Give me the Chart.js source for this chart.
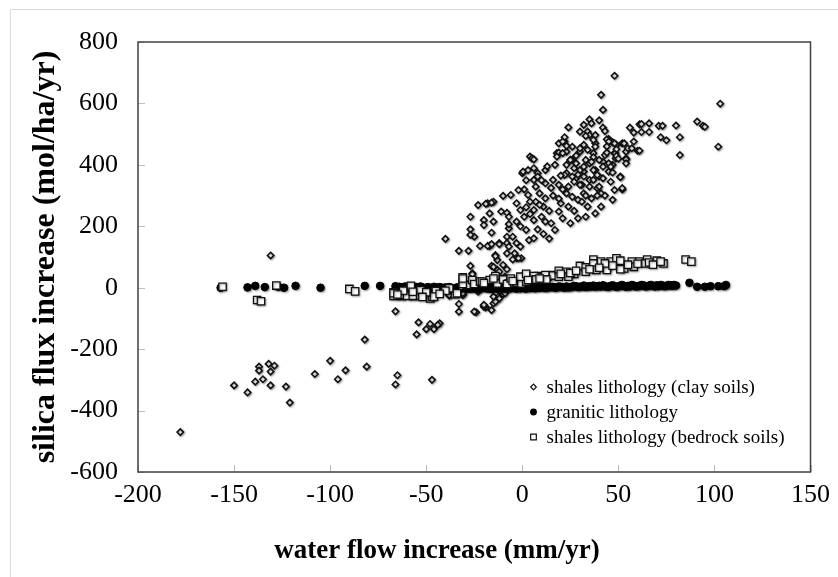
<!DOCTYPE html>
<html><head><meta charset="utf-8">
<script src="https://cdn.jsdelivr.net/npm/chart.js@4/dist/chart.umd.min.js"></script>
<style>html,body{margin:0;padding:0;background:#fff}#wrap{position:relative;width:838px;height:577px}</style>
</head><body><div id="wrap"><canvas id="c" width="838" height="577"></canvas></div>
<script>
const seriesLabels = ['shales lithology (clay soils)', 'granitic lithology', 'shales lithology (bedrock soils)'];
const xTitle = 'water flow increase (mm/yr)';
const yTitle = 'silica flux increase (mol/ha/yr)';
const xRange = [-200, 150, 50];
const yRange = [-600, 800, 200];

const clayData = [
[-178,-470],[-131,105],[-150,-318],[-143,-341],[-139,-306],[-137,-257],[-137,-270],[-135,-298],[-132,-248],[-129,-254],[-131,-273],[-131,-318],[-123,-322],[-121,-374],[-108,-281],[-100,-238],[-96,-298],[-92,-269],[-82,-169],[-81,-257],[-66,-315],[-65,-285],[-66,-77],[-54,-113],[-55,-152],[-50,-135],[-48,-118],[-46,-135],[-43,-116],[-44,-121],[-47,-300],[-33,-53],[-33,-78],[-38,-26],[-31,-21],[-24,-80],[-20,-59],[-19,-64],[-16,-73],[-15,-51],[-13,-38],[-12,-27],[-10,-21],[-9,-10],[-23,-13],[-38,-24],[-31,-24],[-20,-62],[-25,-78],[-12,-35],[-14,-45],[-9,-18],[-8,9],[-20,-56],[-15,-29],[-31,-18],
[-40,159],[-33,120],[-28,120],[-27,231],[-27,190],[-25,166],[-23,269],[-22,136],[-20,220],[-20,204],[-18,275],[-17,136],[-17,242],[-16,179],[-15,215],[-15,280],[-14,106],[-13,90],[-12,145],[-11,248],[-10,74],[-8,244],[-7,231],[-7,193],[-7,207],[-8,166],[-8,145],[-7,134],[-8,112],[-6,302],[-5,166],[-3,275],[-3,215],[-3,145],[-4,112],[-3,96],[-1,253],[-0.5,96],[-10,299],[-19,273],[-16,277],[-27,71],[-26,47],[-13,58],[-8,60],[-12,36],[-9,36],[-5,92],[-2,96],[-1,134],[-27,172],[-18,136],[-16,142],[-12,142],[-14,103],[-16,71],[-26,44],[-15,68],[-12,52],
[0,373],[1,320],[1,231],[2,188],[3,302],[3.5,155],[4,427],[5,421],[6,351],[6,389],[7,329],[7,280],[6,253],[6,220],[6,161],[8,373],[9,307],[10,231],[11,264],[12,383],[12,340],[12,291],[12,215],[15,210],[16,351],[17,400],[18,438],[19,470],[19,248],[19,335],[20,275],[21,226],[22,476],[23,307],[23,373],[24,264],[24,329],[25,416],[26,296],[27,389],[28,356],[29,286],[30,443],[31,335],[32,378],[32,465],[32,307],[33,416],[34,264],[35,351],[36,291],[37,438],[38,470],[38,383],[39,324],[40,362],[41,307],[42,410],[43,432],[45,378],[47,400],[48,438],[49,465],[51,362],[52,320],[52,470],[54,443],
[48,690],[41,628],[42,579],[24,522],[32,530],[35,548],[36,535],[40,545],[30,508],[34,508],[35,497],[38,497],[42,521],[43,510],[22,490],[21,476],[23,443],[19,440],[18,427],[6,418],[0.4,378],[3,383],[8,362],[-2,318],
[56,521],[58,505],[61,532],[62,533],[66,535],[62,507],[66,507],[71,527],[73,527],[80,528],[72,490],[75,480],[82,490],[82,432],[91,541],[94,527],[95,524],[102,459],[103,599],
[51,360],[54,421],[60,446],[58,476],[53,470],[55,454],[48.6,421],[48.4,438],[45,484],[47,473],[26,416],[33,494],[37,481],[38,459],[44,483],[45,476],[48,470],[49,451],[49,429],[54,418],[54,405],[57,454],[61,446],[44,440],[45,405],[46,394],[47,375],[52,324],[42,394],[40,416],[37,425],[34,449],[30,454],[26,459],[23,462],[21,438],[25,416],[28,405],[30,383],[32,394],[35,405],[37,383],[39,367],[42,356],[23,400],[22,367],[26,362],[32,362],[37,351],[30,335],[35,329],[40,329],[25,210],[29,226],[33,231],[38,242],[41,264],[47,286],[48,318],
[14,250],[9,270],[4,240],[16,300],[21,320],[27,345],[13,395],[10,350],[2,350],[14,160],[8,190],[17,188],[27,250],[31,280],[20,365],[28,430],[36,410],[44,460],[50,420],[46,345],[33,300],[-1,200],[4,280],[15,325],[11,175],[2,262],[29,368],[39,300],[43,300],[19,290]
];

const graniteData = [
[-157,0],[-143,1],[-139,6],[-134,2],[-127,3],[-124,0],[-118,6],[-105,0],[-82,6],[-74,6],[-66,5],[-65,1],[-64,3],[-63,-1],[-62,2],[-61,4],[-60,1],[-59,4],[-58,-2],[-57,0],[-56,3],[-55,2],[-54,-1],[-53,4],[-52,1],[-51,-3],[-50,0],[-49,2],[-48,-3],[-47,-1],[-46,3],[-45,1],[-44,-2],[-43,2],[-42,0],[-41,-3],[-40,1],[-39,-1],[-38,2],[-37,0],[-36,-3],[-35,-2],[-34,1],[-33,-4],[-32,-1],[-31,2],[-30,0],[-29,-2],[-28,-4],[-27,1],[-26,-3],[-25,-1],[-24,0],[-23,-4],[-22,-2],[-21,1],[-20,0],[-19,1],[-18,-3],[-17,-1],[-16,-4],[-15,0],[-14,-2],[-13,-4],[-12,1],[-11,-3],[-10,0],[-9,-1],[-8,-4],[-7,1],[-6,-2],[-5,0],[-4,2],[-3,-3],[-2,0],[-1,-2],[0,1],[1,-1],[2,-3],[3,2],[4,-1],[5,0],[6,1],[7,-2],[8,3],[9,0],[10,1],[11,2],[12,-1],[13,0],[14,3],[15,2],[16,3],[17,0],[18,1],[19,4],[20,3],[21,2],[22,0],[23,4],[24,1],[25,2],[26,3],[27,6],[28,5],[29,2],[30,3],[31,4],[32,7],[33,2],[34,4],[35,5],[36,4],[37,7],[38,3],[39,5],[40,6],[41,4],[42,8],[43,5],[44,3],[45,3],[46,6],[47,8],[48,5],[49,3],[50,4],[51,7],[52,9],[53,5],[54,3],[55,6],[56,4],[57,9],[58,7],[59,4],[60,5],[61,6],[62,9],[63,8],[64,4],[65,5],[66,7],[67,9],[68,6],[69,4],[70,8],[71,5],[72,9],[73,7],[74,5],[75,6],[76,9],[77,8],[78,6],[79,9],[80,7],[87,16],[91,3],[95,3],[98,5],[102,5],[106,9],[105,5]
];

const bedrockData = [
[-156,3],[-138,-40],[-136,-44],[-128,7],[-90,-4],[-87,-12],[-67,-15],[-67,-27],[-63,-27],[-60,-21],[-58,1],[-57,-27],[-54,-25],[-53,-8],[-48,-35],[-67,-18],[-63,-24],[-60,-26],[-57,-26],[-58,6],[-47,-29],[-45,-11],[-38,-5],[-35,-21],[-31,6],[-31,34],[-29,9],[-26,25],[-25,12],[-22,20],[-17,25],[-14,38],[-13,14],[-10,27],[-7,14],[-3,16],[-0.5,14],[2,20],[6,31],[8,38],[10.5,34],[13,36],[16,41],[-46,-29],[-38,-2],[-34,-18],[-31,12],[-31,30],[-21,20],[-8,12],[-6,30],[-1,36],[2,45],[6,38],[7,27],[12,41],[16,40],[19,55],[23,52],[27,45],[30,71],[33,66],[37,92],[37,79],[41,85],[44,68],[46,85],[49,96],[51,88],[53,63],[57,85],[61,85],[65,92],[64,79],[70,88],[73.5,79],[85,92],[88,85],[12.5,27],[19,36],[24,36],[33,52],[38.5,58],[44,58],[51,60],[58,68],[43,79],
[20,45],[25,48],[28,55],[35,60],[40,65],[47,72],[55,75],[60,78],[66,82],[68,75],[72,85],[3,25],[9,30],[-5,22],[-20,15],[-15,30],[-40,-10],[-43,-20],[-50,-15],[-52,-30],[-62,-10],[-65,-22],[-57,-13]
];

const serif = '"Liberation Serif","Times New Roman",serif';
const toPts = a => a.map(p => ({x: p[0], y: p[1]}));

const styles = [
  {pointStyle: 'rectRot', radius: 3.2, borderWidth: 1.6, bg: '#ffffff', border: '#111111'},
  {pointStyle: 'circle', radius: 3.8, borderWidth: 1, bg: '#000000', border: '#000000'},
  {pointStyle: 'rect', radius: 5.2, borderWidth: 1.3, bg: '#ffffff', border: '#111111'}
];

const frame = {
  id: 'frame',
  beforeDraw(chart) {
    const ctx = chart.ctx;
    ctx.save();
    ctx.strokeStyle = '#d9d9d9'; ctx.lineWidth = 1;
    ctx.beginPath(); ctx.moveTo(10.5, 577); ctx.lineTo(10.5, 9.5); ctx.lineTo(838, 9.5); ctx.stroke();
    ctx.restore();
  },
  beforeDatasetsDraw(chart) {
    const ctx = chart.ctx, a = chart.chartArea, xs = chart.scales.x, ys = chart.scales.y;
    ctx.save();
    ctx.strokeStyle = '#bfbfbf'; ctx.lineWidth = 1;
    ctx.beginPath();
    ys.ticks.forEach(t => { const y = Math.round(ys.getPixelForValue(t.value)) + 0.5; ctx.moveTo(a.left, y); ctx.lineTo(a.left + 7, y); });
    xs.ticks.forEach(t => { const x = Math.round(xs.getPixelForValue(t.value)) + 0.5; ctx.moveTo(x, a.bottom); ctx.lineTo(x, a.bottom - 7); });
    ctx.stroke();
    ctx.restore();
  },
  beforeDatasetDraw(chart) {
    const ctx = chart.ctx;
    ctx.save();
    ctx.shadowColor = 'rgba(0,0,0,0.35)';
    ctx.shadowBlur = 2;
    ctx.shadowOffsetX = 1;
    ctx.shadowOffsetY = 1;
  },
  afterDatasetDraw(chart) {
    chart.ctx.restore();
  },
  afterDatasetsDraw(chart) {
    const ctx = chart.ctx, a = chart.chartArea;
    ctx.save();
    ctx.strokeStyle = '#404040'; ctx.lineWidth = 1.5;
    ctx.strokeRect(a.left, a.top, a.right - a.left, a.bottom - a.top);
    ctx.restore();
  },
  afterDraw(chart) {
    const ctx = chart.ctx, a = chart.chartArea;
    ctx.save();
    ctx.fillStyle = '#000';
    ctx.font = 'bold 27px ' + serif;
    ctx.textAlign = 'center'; ctx.textBaseline = 'middle';
    ctx.fillText(xTitle, 437, 551);
    ctx.font = '19px ' + serif;
    ctx.textAlign = 'left';
    const lx = a.right - 277, ly = a.bottom - 85;
    chart.data.datasets.forEach((ds, i) => {
      const y = ly + i * 25;
      const s = styles[i];
      ctx.fillStyle = s.bg; ctx.strokeStyle = s.border; ctx.lineWidth = 1.2;
      Chart.helpers.drawPoint(ctx, {pointStyle: s.pointStyle, radius: i === 2 ? 4 : 2.8, borderWidth: 1.2, rotation: 0}, lx, y);
      ctx.fillStyle = '#000';
      ctx.fillText(ds.label, lx + 13, y + 1);
    });
    ctx.restore();
  }
};

const datasets = [clayData, graniteData, bedrockData].map((d, i) => ({
  label: seriesLabels[i],
  data: toPts(d),
  pointStyle: styles[i].pointStyle,
  pointRadius: styles[i].radius,
  pointBorderWidth: styles[i].borderWidth,
  pointBackgroundColor: styles[i].bg,
  pointBorderColor: styles[i].border,
  showLine: false,
  order: 3 - i
}));

new Chart(document.getElementById('c'), {
  type: 'scatter',
  data: {datasets},
  options: {
    responsive: false,
    animation: false,
    events: [],
    layout: {padding: {top: 42, right: 27, left: 0, bottom: 0}},
    plugins: {legend: {display: false}, tooltip: {enabled: false}},
    scales: {
      x: {
        type: 'linear', min: xRange[0], max: xRange[1],
        ticks: {stepSize: xRange[2], color: '#000', font: {family: serif, size: 26}, padding: 8, maxRotation: 0, autoSkip: false},
        grid: {display: false, drawTicks: false},
        border: {display: false},
        afterFit(s) { s.height = 105; }
      },
      y: {
        type: 'linear', min: yRange[0], max: yRange[1],
        ticks: {stepSize: yRange[2], color: '#000', font: {family: serif, size: 26}, padding: 20, autoSkip: false},
        grid: {display: false, drawTicks: false},
        border: {display: false},
        title: {display: true, text: yTitle, color: '#000', font: {family: serif, size: 32, weight: 'bold'}, padding: {top: 27, bottom: 0}},
        afterFit(s) { s.width = 138; }
      }
    }
  },
  plugins: [frame]
});
</script>
</body></html>
